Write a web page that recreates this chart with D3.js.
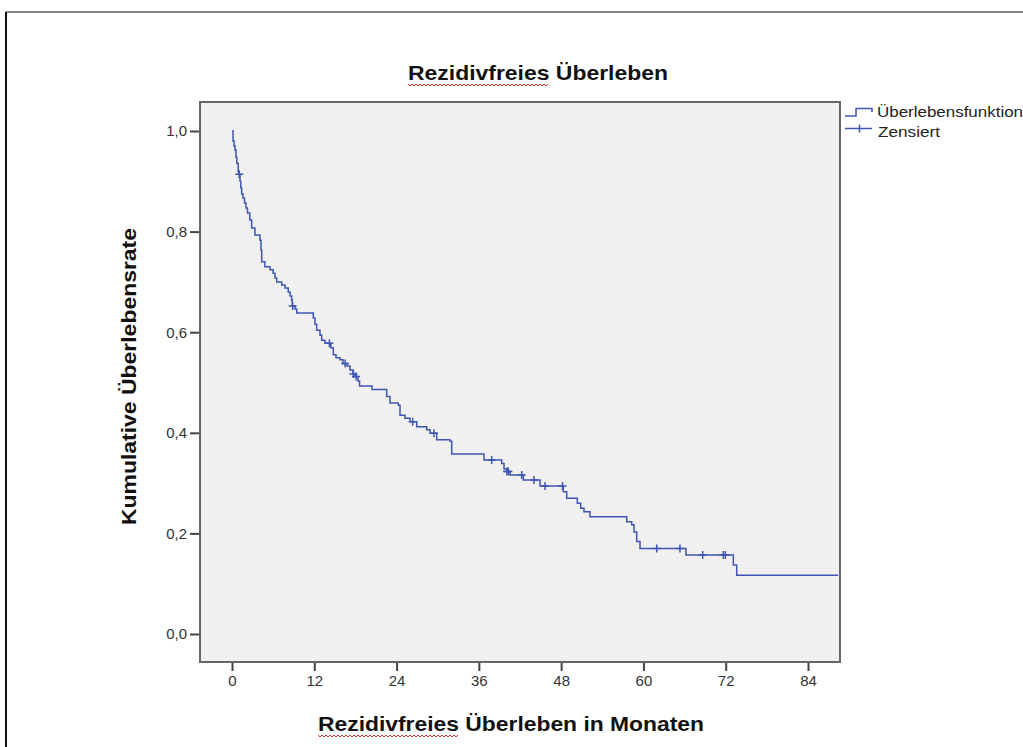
<!DOCTYPE html>
<head>
  <meta charset="utf-8">
  <title>Rezidivfreies Überleben</title>
</head>
<style>

html, body {
  margin: 0;
  padding: 0;
  background: #ffffff;
}

svg {
  display: block;
}

text {
  font-family: "Liberation Sans", Arial, sans-serif;
}

.label {
  font-weight: bold;
  font-size: 21px;
  fill: #111111;
}

.axis .tick text {
  font-size: 15px;
  fill: #333333;
}

.axis .tick line {
  stroke: #444444;
  stroke-width: 2px;
}

.legend text {
  font-size: 14px;
  fill: #222222;
}

.curve {
  fill: none;
  stroke: #3f55b0;
  stroke-width: 1.5px;
}

.censor {
  stroke: #3f55b0;
  stroke-width: 1.5px;
}

.squiggle {
  fill: none;
  stroke: #e0302a;
  stroke-width: 1px;
}
</style>

<svg width="1023" height="747"></svg>

<script src="https://d3js.org/d3.v7.min.js"></script>
<script>
// Kaplan-Meier steps: time in months and survival after each drop
var eventMonths = [0, 0.15, 0.3, 0.44, 0.58, 0.7, 0.9, 1.0, 1.17, 1.28, 1.41, 1.6, 1.82, 2.04, 2.26,
  2.6, 2.87, 3.35, 4.08, 4.23, 4.33, 4.8, 5.54, 6.0, 6.27, 6.52, 7.25, 7.73, 8.2, 8.46, 8.7,
  8.79, 9.19, 9.44, 11.86, 12.1, 12.35, 12.83, 13.08, 13.56, 14.4, 14.77, 15.17, 15.75, 16.19,
  16.77, 17.21, 17.65, 17.94, 18.37, 18.6, 20.42, 22.56, 23.04, 24.25, 24.5, 25.23, 25.96,
  26.94, 28.39, 28.88, 29.85, 31.79, 32.04, 36.75, 39.33, 39.67, 40.06, 40.54, 42.48, 44.92,
  48.31, 48.81, 50.36, 50.85, 51.33, 52.21, 57.56, 58.29, 58.63, 59.02, 59.5, 66.2, 73.11, 73.6];
var eventSurv = [1.0, 0.980, 0.970, 0.962, 0.948, 0.936, 0.920, 0.914, 0.900, 0.887, 0.875, 0.867,
  0.857, 0.847, 0.837, 0.823, 0.807, 0.793, 0.783, 0.763, 0.740, 0.730, 0.724, 0.717, 0.708,
  0.700, 0.694, 0.688, 0.680, 0.672, 0.664, 0.652, 0.646, 0.638, 0.628, 0.616, 0.604, 0.594,
  0.584, 0.578, 0.569, 0.555, 0.549, 0.545, 0.538, 0.533, 0.525, 0.517, 0.512, 0.503, 0.493,
  0.486, 0.472, 0.459, 0.455, 0.435, 0.429, 0.422, 0.412, 0.406, 0.399, 0.386, 0.383, 0.358,
  0.346, 0.339, 0.328, 0.323, 0.316, 0.306, 0.294, 0.283, 0.270, 0.260, 0.250, 0.243, 0.233,
  0.223, 0.217, 0.203, 0.184, 0.170, 0.157, 0.137, 0.117];
var lastMonth = 88.4;

// censored observations (months)
var censorMonths = [1.05, 8.85, 14.2, 16.5, 17.7, 18.1, 26.35, 29.46, 37.87, 40.1, 40.3, 42.25,
  44.04, 45.65, 48.2, 61.94, 65.33, 68.64, 71.65, 71.95];

var xTicks = [0, 12, 24, 36, 48, 60, 72, 84];
var yTicks = [0, 0.2, 0.4, 0.6, 0.8, 1.0];

var titleText = "Rezidivfreies Überleben";
var xLabelText = "Rezidivfreies Überleben in Monaten";
var yLabelText = "Kumulative Überlebensrate";
var legendLabels = ["Überlebensfunktion", "Zensiert"];

var svg = d3.select("svg");

var plot = {left: 200, top: 102, right: 840, bottom: 662};

var x = d3.scaleLinear().domain([0, 84]).range([232, 808]);
var y = d3.scaleLinear().domain([0, 1]).range([634, 131]);

// outer frame (only top and left edges are visible)
svg.append("line").attr("x1", 6).attr("x2", 1023).attr("y1", 12).attr("y2", 12)
  .attr("stroke", "#858585").attr("stroke-width", 2);
svg.append("line").attr("x1", 6).attr("x2", 6).attr("y1", 12).attr("y2", 747)
  .attr("stroke", "#111111").attr("stroke-width", 2);

// plot background
svg.append("rect")
  .attr("x", plot.left).attr("y", plot.top)
  .attr("width", plot.right - plot.left).attr("height", plot.bottom - plot.top)
  .attr("fill", "#f0f0f0");

// axes
var yAxis = svg.append("g")
  .attr("class", "axis")
  .attr("transform", "translate(" + plot.left + ",0)")
  .call(d3.axisLeft(y).tickValues(yTicks).tickSize(10).tickPadding(3)
    .tickFormat(function(d) { return d.toFixed(1).replace(".", ","); }));
yAxis.select(".domain").remove();

var xAxis = svg.append("g")
  .attr("class", "axis")
  .attr("transform", "translate(0," + plot.bottom + ")")
  .call(d3.axisBottom(x).tickValues(xTicks).tickSize(9).tickPadding(4));
xAxis.select(".domain").remove();

// plot border
svg.append("rect")
  .attr("x", plot.left).attr("y", plot.top)
  .attr("width", plot.right - plot.left).attr("height", plot.bottom - plot.top)
  .attr("fill", "none").attr("stroke", "#666666").attr("stroke-width", 2);

// survival curve
var steps = eventMonths.map(function(t, i) { return [t, eventSurv[i]]; });
steps.push([lastMonth, eventSurv[eventSurv.length - 1]]);

var line = d3.line()
  .x(function(d) { return x(d[0]); })
  .y(function(d) { return y(d[1]); })
  .curve(d3.curveStepAfter);

svg.append("path")
  .datum(steps)
  .attr("class", "curve")
  .attr("d", line);

function survAt(t) {
  var i = d3.bisectRight(eventMonths, t) - 1;
  return eventSurv[Math.max(0, i)];
}

svg.append("g").selectAll("path")
  .data(censorMonths)
  .enter().append("path")
    .attr("class", "censor")
    .attr("d", function(t) {
      var cx = x(t), cy = y(survAt(t));
      return "M" + (cx - 4) + "," + cy + "H" + (cx + 4) + "M" + cx + "," + (cy - 4) + "V" + (cy + 4);
    });

// legend
var legend = svg.append("g").attr("class", "legend");
legend.append("path")
  .attr("class", "curve")
  .attr("d", "M845,116H856V108.5H872V112");
legend.append("path")
  .attr("class", "curve")
  .attr("d", "M845,128.5H872");
legend.append("path")
  .attr("class", "censor")
  .attr("d", "M859.5,124.5V132.5");
legend.append("text")
  .attr("x", 877).attr("y", 117)
  .attr("textLength", 146).attr("lengthAdjust", "spacingAndGlyphs")
  .text(legendLabels[0]);
legend.append("text")
  .attr("x", 878).attr("y", 137)
  .attr("textLength", 62).attr("lengthAdjust", "spacingAndGlyphs")
  .text(legendLabels[1]);

// titles
svg.append("text")
  .attr("class", "label")
  .attr("x", 538).attr("y", 80)
  .attr("text-anchor", "middle")
  .attr("textLength", 260).attr("lengthAdjust", "spacingAndGlyphs")
  .text(titleText);

svg.append("text")
  .attr("class", "label")
  .attr("x", 511).attr("y", 731)
  .attr("text-anchor", "middle")
  .attr("textLength", 386).attr("lengthAdjust", "spacingAndGlyphs")
  .text(xLabelText);

svg.append("text")
  .attr("class", "label")
  .attr("transform", "translate(136,376.5) rotate(-90)")
  .attr("text-anchor", "middle")
  .attr("textLength", 297).attr("lengthAdjust", "spacingAndGlyphs")
  .text(yLabelText);

// red spell-check squiggles under "Rezidivfreies"
function squiggle(x0, x1, yy) {
  var pts = d3.range(x0, x1, 2).map(function(px, i) { return [px, yy + (i % 2 ? 2 : 0)]; });
  svg.append("path").attr("class", "squiggle").attr("d", d3.line()(pts));
}
squiggle(408, 550, 84);
squiggle(318, 460, 735);
</script>
